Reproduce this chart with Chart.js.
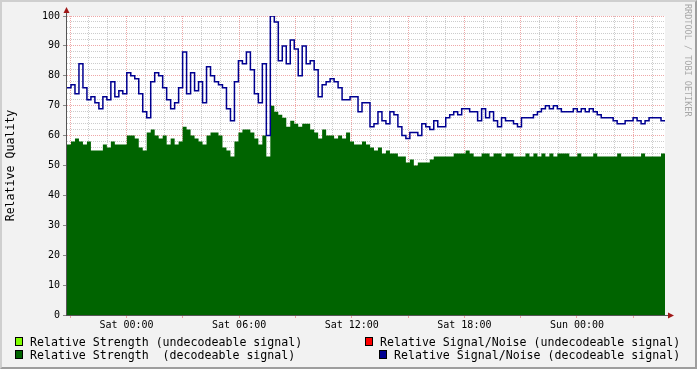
<!DOCTYPE html>
<html>
<head>
<meta charset="utf-8">
<script src="https://cdn.jsdelivr.net/npm/chart.js@4.4.0/dist/chart.umd.min.js"></script>
<style>
html, body { margin: 0; padding: 0; background: #f2f2f2; }
#frame {
    position: absolute; left: 0; top: 0; width: 697px; height: 369px; box-sizing: border-box;
    border-top: 2px solid #cfcfcf; border-left: 2px solid #cfcfcf;
    border-right: 2px solid #9e9e9e; border-bottom: 2px solid #9e9e9e;
    background: #f2f2f2;
}
#graph { position: absolute; left: 0; top: 0; }
.txt { position: absolute; font-family: 'DejaVu Sans Mono', monospace; font-size: 11.6px; line-height: 13px; white-space: pre; color: #000; }
.box { position: absolute; width: 8px; height: 9px; box-sizing: border-box; border: 1px solid #000; }
#credit {
    position: absolute; left: 683px; top: 4px; writing-mode: vertical-rl;
    font-family: 'DejaVu Sans Mono', monospace; font-size: 8.5px; line-height: 10px;
    color: #a8a8a8; white-space: pre;
}
</style>
</head>
<body>
<div id="frame"></div>
<canvas id="graph" width="697" height="369"></canvas>
<div id="legend"></div>
<div id="credit">RRDTOOL / TOBI OETIKER</div>
<script>
/* --------------------- Данные --------------------- */

// time axis, hours relative to Sat 00:00
var startHour = -3.17;
var endHour = 28.69;

var tickHours = [0, 6, 12, 18, 24];
var tickLabels = ['Sat 00:00', 'Sat 06:00', 'Sat 12:00', 'Sat 18:00', 'Sun 00:00'];
var yLabels = [0, 10, 20, 30, 40, 50, 60, 70, 80, 90, 100];

// Relative Signal/Noise (decodeable signal)
var snrDecoded = [
    76, 77, 74, 84, 76, 72, 73, 71, 69, 73, 72, 78, 73, 75, 74, 81, 80, 79, 74, 68, 66, 78, 81, 80, 76,
    72, 69, 71, 76, 88, 74, 81, 75, 78, 71, 83, 80, 78, 77, 76, 69, 65, 78, 85, 84, 88, 82, 74, 71, 84,
    60, 100, 98, 85, 90, 84, 92, 89, 80, 90, 84, 85, 82, 73, 77, 78, 79, 78, 76, 72, 72, 73, 73, 68, 71,
    71, 63, 64, 68, 65, 64, 68, 67, 63, 60, 59, 61, 61, 60, 64, 63, 62, 65, 63, 63, 66, 67, 68, 67, 69,
    69, 68, 68, 65, 69, 66, 68, 65, 63, 66, 65, 65, 64, 63, 66, 66, 66, 67, 68, 69, 70, 69, 70, 69, 68,
    68, 68, 69, 68, 69, 68, 69, 68, 67, 66, 66, 66, 65, 64, 64, 65, 65, 66, 65, 64, 65, 66, 66, 66, 65
];

// Relative Strength (decodeable signal)
var strengthDecoded = [
    57, 58, 59, 58, 57, 58, 55, 55, 55, 57, 56, 58, 57, 57, 57, 60, 60, 59, 56, 55, 61, 62, 60, 59, 60,
    57, 59, 57, 58, 63, 62, 60, 59, 58, 57, 60, 61, 61, 60, 56, 55, 53, 58, 61, 62, 62, 61, 59, 57, 60,
    53, 70, 68, 67, 66, 63, 65, 64, 63, 64, 64, 62, 61, 59, 62, 60, 60, 59, 60, 59, 61, 58, 57, 57, 58,
    57, 56, 55, 56, 54, 55, 54, 54, 53, 53, 51, 52, 50, 51, 51, 51, 52, 53, 53, 53, 53, 53, 54, 54, 54,
    55, 54, 53, 53, 54, 54, 53, 54, 54, 53, 54, 54, 53, 53, 53, 54, 53, 54, 53, 54, 53, 54, 53, 54, 54,
    54, 53, 53, 54, 53, 53, 53, 54, 53, 53, 53, 53, 53, 54, 53, 53, 53, 53, 53, 54, 53, 53, 53, 53, 54
];

var legendNames = [
    'Relative Strength (undecodeable signal)',
    'Relative Strength  (decodeable signal)',
    'Relative Signal/Noise (undecodeable signal)',
    'Relative Signal/Noise (decodeable signal)'
];
var legendColors = ['#80ff00', '#006400', '#ff0000', '#000090'];

var stepHours = (endHour - startHour) / snrDecoded.length;

function toPoints(values) {
    var pts = [];
    for (var i = 0; i < values.length; i++) {
        pts.push({x: startHour + i * stepHours, y: values[i]});
    }
    pts.push({x: endHour, y: values[values.length - 1]});
    return pts;
}

/* --------------------- Легенда --------------------- */

var legendPos = [[15, 30, 336], [15, 30, 349], [365, 380, 336], [379, 394, 349]];
var legendHtml = '';
for (var i = 0; i < legendNames.length; i++) {
    var p = legendPos[i];
    legendHtml += '<div class="box" style="left:' + p[0] + 'px;top:' + (p[2] + 1) + 'px;background:' + legendColors[i] + '"></div>';
    legendHtml += '<div class="txt" style="left:' + p[1] + 'px;top:' + p[2] + 'px">' + legendNames[i] + '</div>';
}
document.getElementById('legend').innerHTML = legendHtml;

/* --------------------- График --------------------- */

var minorGrid = 'rgba(143,143,143,0.45)';
var majorGrid = 'rgba(222,79,79,0.5)';

var canvasBg = {
    id: 'canvasBg',
    beforeDraw: function (chart) {
        var a = chart.chartArea, c = chart.ctx;
        c.save();
        c.fillStyle = '#ffffff';
        c.fillRect(a.left, a.top, a.right - a.left, a.bottom - a.top);
        c.restore();
    }
};

var axisArrows = {
    id: 'axisArrows',
    afterDraw: function (chart) {
        var a = chart.chartArea, c = chart.ctx;
        c.save();
        c.strokeStyle = '#555555';
        c.lineWidth = 1;
        c.beginPath();
        c.moveTo(a.left - 0.5, a.bottom + 1);
        c.lineTo(a.left - 0.5, a.top - 5);
        c.moveTo(a.left - 1, a.bottom + 0.5);
        c.lineTo(a.right + 5, a.bottom + 0.5);
        c.stroke();
        c.fillStyle = '#a01818';
        c.beginPath();
        c.moveTo(a.left - 0.5, a.top - 9);
        c.lineTo(a.left - 3.5, a.top - 3);
        c.lineTo(a.left + 2.5, a.top - 3);
        c.closePath();
        c.fill();
        c.beginPath();
        c.moveTo(a.right + 9, a.bottom + 0.5);
        c.lineTo(a.right + 3, a.bottom - 2.5);
        c.lineTo(a.right + 3, a.bottom + 3.5);
        c.closePath();
        c.fill();
        c.restore();
    }
};

Chart.defaults.font.family = "'DejaVu Sans Mono', monospace";
Chart.defaults.color = '#000';

var ctx = document.getElementById('graph').getContext('2d');
var chart = new Chart(ctx, {
    type: 'line',
    data: {
        datasets: [{
            label: legendNames[3],
            data: toPoints(snrDecoded),
            borderColor: legendColors[3],
            borderWidth: 1.5,
            stepped: true,
            fill: false,
            pointRadius: 0
        }, {
            label: legendNames[1],
            data: toPoints(strengthDecoded),
            borderWidth: 0,
            borderColor: legendColors[1],
            backgroundColor: legendColors[1],
            stepped: true,
            fill: 'origin',
            pointRadius: 0
        }]
    },
    options: {
        responsive: false,
        animation: false,
        layout: { padding: { left: 0, top: 16, right: 32, bottom: 0 } },
        plugins: {
            legend: { display: false },
            tooltip: { enabled: false }
        },
        scales: {
            x: {
                type: 'linear',
                min: startHour,
                max: endHour,
                z: 1,
                afterBuildTicks: function (scale) {
                    scale.ticks = [];
                    for (var h = -3; h <= 28; h++) scale.ticks.push({value: h});
                },
                afterFit: function (scale) { scale.height = 54; },
                ticks: {
                    autoSkip: false,
                    maxRotation: 0,
                    padding: 1,
                    font: { size: 10 },
                    callback: function (v) {
                        var k = tickHours.indexOf(v);
                        return k >= 0 ? tickLabels[k] : '';
                    }
                },
                grid: {
                    tickLength: 3,
                    color: function (c) {
                        return c.tick && c.tick.value % 3 === 0 ? majorGrid : minorGrid;
                    },
                    tickColor: function (c) {
                        return c.tick && c.tick.value % 3 === 0 ? majorGrid : 'rgba(0,0,0,0)';
                    }
                },
                border: { display: false, dash: [1, 1] }
            },
            y: {
                min: 0,
                max: 100,
                z: 1,
                afterBuildTicks: function (scale) {
                    scale.ticks = [];
                    for (var v = 0; v <= 100; v += 2) scale.ticks.push({value: v});
                },
                afterFit: function (scale) { scale.width = 67; },
                ticks: {
                    autoSkip: false,
                    padding: 3,
                    font: { size: 10 },
                    callback: function (v) {
                        return yLabels.indexOf(v) >= 0 ? String(v) : '';
                    }
                },
                grid: {
                    tickLength: 4,
                    color: function (c) {
                        return c.tick && c.tick.value % 10 === 0 ? majorGrid : minorGrid;
                    },
                    tickColor: function (c) {
                        return c.tick && c.tick.value % 10 === 0 ? '#888888' : 'rgba(0,0,0,0)';
                    }
                },
                border: { display: false, dash: [1, 1] },
                title: {
                    display: true,
                    text: 'Relative Quality',
                    font: { size: 11.6 },
                    padding: { top: 4.5, bottom: 0 }
                }
            }
        }
    },
    plugins: [canvasBg, axisArrows]
});
</script>
</body>
</html>
